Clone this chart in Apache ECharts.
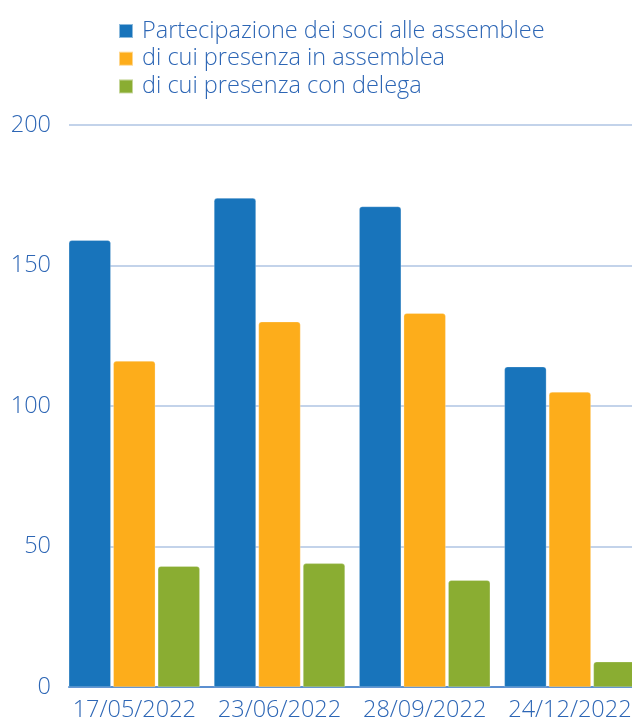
<!DOCTYPE html>
<html><head><meta charset="utf-8">
<script src="https://cdn.jsdelivr.net/npm/echarts@6/dist/echarts.min.js"></script>
<style>html,body{margin:0;padding:0;background:#fff}#c{width:632px;height:722px}</style>
</head><body><div id="c"></div>
<script>
const categories = ['17/05/2022','23/06/2022','28/09/2022','24/12/2022'];
const seriesNames = ['Partecipazione dei soci alle assemblee','di cui presenza in assemblea','di cui presenza con delega'];
const partecipazione = [159,174,171,114];
const presenza = [116,130,133,105];
const delega = [43,44,38,9];
const yTicks = [0,50,100,150,200];
const colors = ['#1874bb','#fdad1b','#8aad32'];
const txt = '#2d66b5';
const font = 'Open Sans';
const fs = 23.5;
const chart = echarts.init(document.getElementById('c'));
const vals = [partecipazione, presenza, delega];
chart.setOption({
  animation:false,
  textStyle:{fontFamily:font},
  legend:{orient:'vertical',left:113,top:14,itemWidth:14,itemHeight:14,itemGap:3.7,icon:'rect',
    textStyle:{color:txt,fontSize:fs,lineHeight:24,fontFamily:font,fontWeight:300,padding:[0,0,0,4]},
    data:seriesNames},
  grid:[
    {left:69,right:0,top:125,bottom:35,outerBoundsMode:'none',containLabel:false},
    {left:61.7,width:580.8,top:125,bottom:35,outerBoundsMode:'none',containLabel:false}
  ],
  xAxis:[
    {gridIndex:0,type:'category',data:categories,axisLine:{show:true,lineStyle:{color:'#5b8fd0',width:2}},axisTick:{show:false},axisLabel:{show:false}},
    {gridIndex:1,type:'category',data:categories,axisLine:{show:false},axisTick:{show:false},
      axisLabel:{interval:0,color:txt,fontSize:fs,fontFamily:font,fontWeight:300,margin:11,hideOverlap:false}}
  ],
  yAxis:[
    {gridIndex:0,type:'value',min:yTicks[0],max:yTicks[yTicks.length-1],interval:50,
      axisLabel:{color:txt,fontSize:fs,fontFamily:font,fontWeight:300,margin:18},
      splitLine:{lineStyle:{color:'#c3d3ea',width:2}},axisLine:{show:false},axisTick:{show:false}},
    {gridIndex:1,type:'value',min:0,max:200,interval:50,show:false,splitLine:{show:false}}
  ],
  series: seriesNames.map((n,i)=>({
    name:n,type:'bar',xAxisIndex:1,yAxisIndex:1,data:vals[i],barWidth:42,barGap:'6%',
    itemStyle:{color:colors[i],borderRadius:[3,3,0,0],borderColor:'rgba(255,255,255,0.5)',borderWidth:0.5}
  }))
});
</script></body></html>
